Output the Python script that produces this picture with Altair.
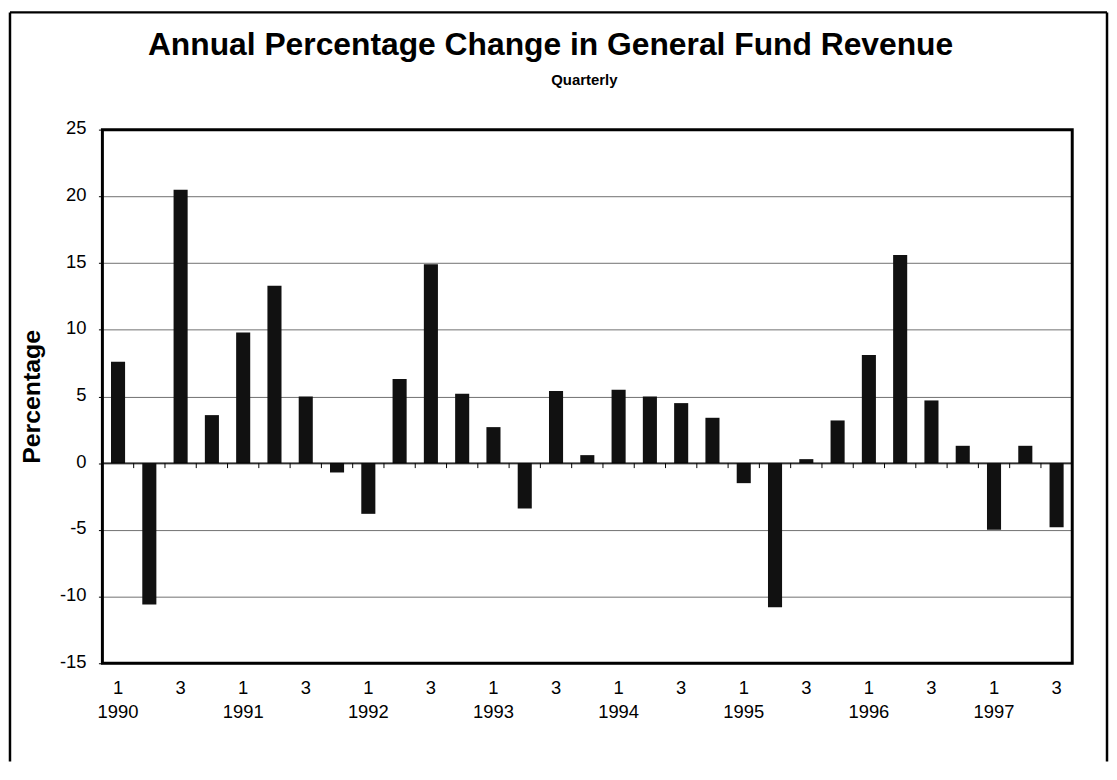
import altair as alt
import pandas as pd

# ---- data ----
years = ["1990", "1991", "1992", "1993", "1994", "1995", "1996", "1997"]
quarters = ["Q1", "Q2", "Q3", "Q4"]
values = [7.6, -10.6, 20.5, 3.6,
          9.8, 13.3, 5.0, -0.7,
          -3.8, 6.3, 14.9, 5.2,
          2.7, -3.4, 5.4, 0.6,
          5.5, 5.0, 4.5, 3.4,
          -1.5, -10.8, 0.3, 3.2,
          8.1, 15.6, 4.7, 1.3,
          -5.0, 1.3, -4.8]
y_ticks = [-15, -10, -5, 0, 5, 10, 15, 20, 25]
title_text = "Annual Percentage Change in General Fund Revenue"
subtitle_text = "Quarterly"
y_title = "Percentage"

periods = [f"{y} {q}" for y in years for q in quarters][: len(values)]
df = pd.DataFrame({"period": periods, "value": values})
one = pd.DataFrame({"k": [0]})

W, H = 976, 537
STEP = W / len(values)
FONT = "Liberation Sans"

label_expr = ("indexof(datum.value, 'Q1') >= 0 ? ['1', substring(datum.value, 0, 4)] : "
              "(indexof(datum.value, 'Q3') >= 0 ? '3' : '')")

x_enc = alt.X(
    "period:N", sort=periods,
    scale=alt.Scale(paddingInner=0.55, paddingOuter=0.275),
    axis=alt.Axis(title=None, labelExpr=label_expr, labelAngle=0, ticks=False, tickSize=0,
                  domain=False, grid=False, labelPadding=15, labelFontSize=18.5,
                  labelLineHeight=25, labelColor="black", labelFont=FONT, labelOverlap=False),
)
y_scale = alt.Scale(domain=[-15, 25], nice=False, zero=False)

bars = alt.Chart(df).mark_bar(color="#111111").encode(
    x=x_enc,
    y=alt.Y("value:Q", scale=y_scale,
            axis=alt.Axis(values=y_ticks, title=y_title, grid=True, gridColor="#707070",
                          gridWidth=1, domain=False, tickSize=4, tickColor="black",
                          labelExpr="'' + datum.value",
                          labelPadding=12.5, labelFontSize=18.5, labelColor="black",
                          labelFont=FONT, labelOffset=-2,
                          titleFont=FONT, titleFontSize=25, titleFontWeight="bold",
                          titleColor="black", titlePadding=15)),
)

zero = alt.Chart(one).mark_rule(color="black", strokeWidth=1.3).encode(y=alt.datum(0))

ticks = alt.Chart(df).mark_rule(color="black", strokeWidth=1, xOffset=STEP / 2, y2Offset=5).encode(
    x=alt.X("period:N", sort=periods), y=alt.datum(0), y2=alt.datum(0)
)

plot_frame = alt.Chart(one).mark_rect(fillOpacity=0, stroke="black", strokeWidth=3).encode(
    x=alt.value(0), x2=alt.value(W), y=alt.value(0), y2=alt.value(H)
)

outer_left = alt.Chart(one).mark_rule(color="black", strokeWidth=2.5).encode(
    x=alt.value(-93), y=alt.value(-118), y2=alt.value(636))
outer_right = alt.Chart(one).mark_rule(color="black", strokeWidth=2.5).encode(
    x=alt.value(1011), y=alt.value(-118), y2=alt.value(636))
outer_top = alt.Chart(one).mark_rule(color="black", strokeWidth=2.5).encode(
    x=alt.value(-93), x2=alt.value(1011), y=alt.value(-118))

title = alt.Chart(one).mark_text(text=title_text, font=FONT, fontSize=32, fontWeight="bold",
                                 align="center", baseline="alphabetic", color="black").encode(
    x=alt.value(451), y=alt.value(-75))
subtitle = alt.Chart(one).mark_text(text=subtitle_text, font=FONT, fontSize=15, fontWeight="bold",
                                    align="center", baseline="alphabetic", color="black").encode(
    x=alt.value(485), y=alt.value(-45))

chart = alt.layer(bars, zero, ticks, plot_frame, outer_left, outer_right, outer_top,
                  title, subtitle).properties(
    width=W, height=H, padding=0, background="white"
).configure_view(stroke="transparent")

chart.save("out.html", embed_options={"renderer": "svg", "actions": False})
